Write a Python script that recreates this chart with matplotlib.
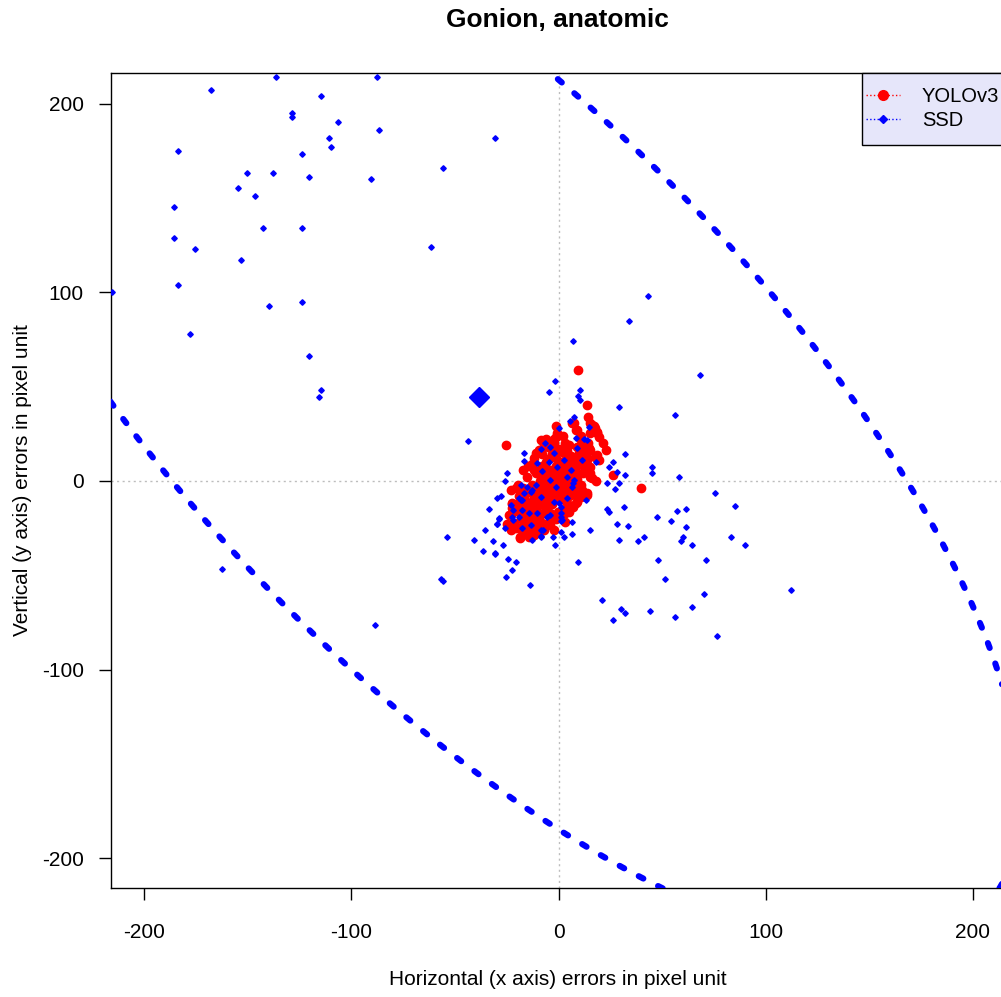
import numpy as np
import matplotlib.pyplot as plt
from matplotlib.lines import Line2D
from matplotlib.patches import Rectangle

plt.rcParams['font.family'] = ['Liberation Sans', 'DejaVu Sans']
plt.rcParams['axes.unicode_minus'] = False

# --- data (errors in pixels) ---
ssd_outer = [
    (-136.5, 214.3), (-87.6, 214.1), (-167.5, 207.0), (-114.7, 204.2), (-128.7, 195.2),
    (-128.7, 193.1), (-106.6, 190.1), (-86.5, 186.0), (-30.7, 181.9), (-110.6, 181.9),
    (-109.6, 177.0), (-183.6, 175.0), (-123.6, 173.1), (-55.6, 166.1), (-150.6, 163.1),
    (-137.6, 163.1), (-120.6, 161.1), (-90.7, 160.0), (-154.7, 155.1), (-146.6, 151.0),
    (-185.6, 145.0), (-142.6, 134.1), (-123.6, 134.1), (-185.6, 128.9), (-175.6, 123.1),
    (-61.7, 124.0), (-153.5, 117.0), (-183.6, 104.0), (-215.3, 100.2), (-139.6, 92.9),
    (-123.6, 95.0), (-177.7, 78.1), (-120.6, 66.1), (-114.7, 48.2), (-115.6, 44.2),
    (-162.6, -46.6), (-53.7, -29.5), (-56.9, -52.0), (-55.8, -53.0), (-88.6, -76.3),
    (-43.6, 21.0),
]
ssd_right = [
    (43.3, 98.0), (34.2, 85.0), (7.2, 74.0), (10.3, 48.1), (9.3, 45.0), (10.3, 42.9),
    (68.3, 56.0), (29.3, 39.1), (56.3, 35.0), (32.3, 14.1), (26.2, 10.2), (45.3, 7.1),
    (45.3, 4.1), (24.4, 7.1), (28.3, 4.9), (32.3, 3.2), (58.2, 2.0), (18.2, 10.2),
    (23.2, -1.1), (29.4, -1.0), (-1.8, 53.0), (-4.7, 47.0), (7.4, 34.1),
    (27.3, -4.2), (75.4, -6.2), (85.2, -13.1), (23.3, -15.0), (24.5, -16.3), (31.4, -13.9),
    (47.3, -19.1), (57.3, -16.1), (61.3, -15.0), (54.4, -21.0), (61.3, -24.2), (28.3, -23.0),
    (33.4, -23.8), (83.3, -30.0), (90.2, -34.1), (60.3, -30.0), (59.2, -32.0), (64.2, -34.1),
    (29.3, -31.1), (38.3, -32.0), (41.3, -30.0), (15.3, -26.0), (6.3, -21.9), (6.3, -28.1),
    (9.3, -43.1), (48.2, -42.0), (71.2, -42.0), (51.3, -51.9), (112.3, -58.1), (70.3, -60.1),
    (21.2, -63.1), (30.2, -68.0), (32.3, -70.1), (44.2, -69.1), (64.2, -66.9), (56.3, -71.9),
    (26.2, -74.0), (76.4, -82.0), (13.4, -10.1), (6.3, -3.0), (7.1, -1.1), (4.2, -9.2),
]
ssd_left = [
    (-40.9, -31.1), (-36.7, -37.1), (-31.7, -32.0), (-30.7, -38.0), (-30.5, -38.8),
    (-26.7, -34.1), (-24.6, -41.2), (-20.6, -42.9), (-22.5, -47.0), (-25.6, -51.2),
    (-13.7, -55.1), (-35.7, -26.1), (-33.6, -15.0), (-29.8, -22.9), (-28.8, -20.1),
    (-29.6, -9.2), (-27.6, -7.9), (-25.7, -25.1), (-12.7, -31.1), (-8.5, -30.0),
    (-8.5, -29.0), (-2.7, -30.0), (-1.8, -34.1), (-7.7, -26.0), (1.3, -17.1), (1.3, -21.0),
    (-24.8, 4.1), (-25.9, 0.2), (-16.7, -6.2), (-19.1, -9.2), (-17.5, -10.1), (-22.8, -12.7),
    (-21.9, -15.4), (-28.8, -19.8), (-29.6, -22.8), (-22.3, -18.9), (-21.9, -20.7),
    (-17.5, -25.1), (1.0, -26.9), (2.6, -29.5), (-3.9, -18.0), (1.0, -13.6), (1.3, -18.9),
    (1.8, -20.7), (-16.7, 15.0), (-16.7, 10.4),
]
ssd_core = [
    (5.3, 31.8), (0.1, 27.9), (8.3, 22.9), (12.5, 22.3), (-6.6, 20.0), (-3.9, 18.2),
    (14.6, 28.8), (13.8, 21.7), (9.0, 17.3), (11.4, 11.1), (-2.2, 14.7), (-4.7, 10.2),
    (-10.3, 9.4), (-7.9, 5.0), (-3.9, 0.5), (5.8, 5.8), (7.4, 0.5), (-11.1, -2.1),
    (-15.1, -3.0), (-18.3, -2.1), (-8.7, 17.1), (2.6, 11.1), (-0.6, 7.6), (-13.5, -5.7),
    (-18.3, -10.1), (-8.7, -8.3), (-1.4, -3.0), (-17.5, -15.4), (-10.3, -17.1),
    (-19.1, -18.9), (-13.5, -23.3), (-8.7, -26.0), (-5.5, -18.9), (0.2, -11.8),
    (-12.7, -4.8), (-2.2, -11.0), (4.2, 2.3), (-14.3, -17.1),
]
yolo_pts = [
    (9.5, 59.0), (13.5, 40.0), (14.3, 34.1), (39.6, -3.9), (26.4, 3.0), (-25.6, 19.1),
    (16.2, 29.7), (17.4, 27.9), (18.7, 26.1), (19.5, 23.5), (21.4, 20.0), (22.7, 16.4),
    (17.8, 12.9), (18.7, 13.8), (19.5, 11.1), (13.8, 12.0), (12.5, 7.6), (15.4, 4.1),
    (16.2, 1.4), (18.3, 0.2), (13.0, 19.1), (14.6, 17.3), (7.4, 30.6), (8.2, 27.0),
    (15.4, 30.6), (17.0, 29.1), (18.6, 25.2), (15.4, 25.2), (6.6, 30.6), (9.0, 27.0),
    (12.2, 18.2), (15.4, 16.4), (10.6, 21.7), (13.8, 11.1), (15.4, 7.6), (15.1, 2.3),
    (11.4, -6.5), (10.6, -8.3), (9.0, -11.0), (8.2, -11.8), (4.2, -15.4), (2.9, -17.1),
    (1.8, -18.9), (13.8, -7.4), (2.6, 14.7), (4.2, 12.9), (5.8, 11.1), (2.6, 7.6),
    (4.2, 5.8), (6.6, 7.6), (8.2, 4.1), (1.8, -1.2), (4.2, -1.2), (7.4, -1.2),
    (-0.6, 25.3), (-1.4, 23.5), (-8.7, 21.7), (-7.1, 19.1), (-9.5, 16.4), (-14.8, 7.9),
    (-19.5, -2.1), (-20.3, -3.9), (-22.7, -12.2), (-22.3, -14.5), (-22.7, -17.1),
    (-21.9, -22.4), (-20.7, -25.1), (-18.8, -30.0), (-13.5, -28.6), (-11.1, -27.4),
    (-8.7, -25.3), (-3.9, -20.7), (-4.7, -22.4), (0.2, -16.3), (1.8, -17.1), (9.0, -8.3),
    (10.6, -6.5), (11.4, -4.8), (13.8, -6.5), (-22.3, -11.8), (-21.5, -22.4), (-18.6, -30.4),
    (-11.9, -28.6), (-10.3, -25.1), (-7.9, -22.4), (-3.9, -23.3), (-0.4, -16.3),
    (2.6, -15.4), (5.0, -16.3), (9.8, -8.3), (-15.9, -20.7), (-13.5, -18.9), (-11.9, -15.4),
    (-15.1, -11.8), (-16.7, -8.3), (-10.3, -13.6), (-7.9, -9.2), (-6.3, -6.5), (-3.9, -3.9),
    (-2.2, 0.5), (1.0, 2.3), (2.6, 4.1), (5.8, 0.5), (7.4, -4.8), (4.2, -11.8), (0.2, -10.1),
    (-13.5, -24.2), (-14.3, -29.5),
    (-10, -5), (-8, -3), (-6, -1), (-4, 1), (-2, 3), (0, 5), (2, 7), (-12, -8), (-9, -10),
    (-7, -7), (-5, -5), (-3, -3), (-1, -1), (1, 1), (3, 3), (-11, -14), (-8, -12), (-6, -9),
    (-4, -7), (-2, -5), (0, -2), (2, 0), (4, 2), (-3, 6), (-1, 8), (1, 10), (-5, 4), (-7, 2),
    (-9, 0), (-13, -2), (-14, -6), (-16, -10), (-18, -14), (-6, 10), (-3, 14), (0, 17),
    (3, 20), (-9, -18), (-6, -15), (-3, -12), (-1, -9), (1, -6), (3, -4), (5, -8), (6, -3),
    (-1, -20), (-4, -17), (-10, -22), (-12, -19), (-15, -16), (-17, -19), (-19, -8),
    (-20, -12), (8, 6), (10, 9), (6, 13), (4, 16), (2, 24), (-2, 20), (-4, 12), (-8, 8),
    (-11, 4), (-12, 12), (-15, 2), (-17, -4), (-23, -5), (-24, -18), (-25, -23), (-16, -26),
    (-7, -26), (-2, -26), (3, -22), (7, -14), (11, -2), (12, 4), (10, 15), (5, 19), (-1, 29),
    (-3, 17), (-6, 22), (-11, 15), (-13, 9), (-17, 6),
    (-18, -20), (-16, -17), (-14, -13), (-12, -10), (-10, -7), (-8, -6), (-6, -4), (-4, -2),
    (-2, 0), (0, 2), (2, 4), (4, 8), (6, 10), (8, 12), (10, 13), (12, 16), (14, 20),
    (-19, -25), (-16, -22), (-13, -21), (-10, -19), (-7, -17), (-5, -13), (-2, -8), (1, -3),
    (3, 1), (5, 4), (7, 9), (9, 18), (11, 24), (-8, 14), (-5, 18), (-2, 22), (-12, 6),
    (-9, 3), (-6, 7), (-20, -16), (-17, -27), (-23, -26), (-14, -15), (3, -10), (6, -6),
    (9, 1), (-1, 12), (1, 16), (-4, -10), (-7, -13),
]
yolo_mean = (-1.5, 0.5)
ssd_mean = (-38.6, 44.5)
# points traced along the SSD error ellipse (the ellipse is fitted through them)
ell_trace = [
    (-212.4, 35.3), (-186.5, -1.1), (-152.4, -42.9), (-115.8, -83.2), (-76.9, -120.8),
    (-52.6, -142.2), (0.0, -184.0), (16.7, -197.0), (25.6, -202.8), (35.2, -208.2),
    (44.4, -213.6), (-3.0, 215.2), (4.2, 208.4), (34.9, 177.9), (70.9, 138.7),
    (105.5, 95.9), (137.3, 50.9), (166.6, 3.2), (172.2, -6.5), (182.3, -26.9),
    (192.0, -47.2), (200.5, -67.8), (208.4, -89.2), (211.6, -99.8), (213.7, -110.0),
    (213.7, -211.4),
]

ssd = np.array(ssd_outer + ssd_right + ssd_left + ssd_core)
yolo = np.array(yolo_pts)

# conic fit A x^2 + B xy + C y^2 + D x + E y = 1
tr = np.array(ell_trace)
tx, ty = tr[:, 0], tr[:, 1]
X = np.column_stack([tx**2, tx * ty, ty**2, tx, ty])
A, B, C, D, E = np.linalg.lstsq(X, np.ones_like(tx), rcond=None)[0]
x0, y0 = np.linalg.solve([[2 * A, B], [B, 2 * C]], [-D, -E])
k = 1 - (A * x0**2 + B * x0 * y0 + C * y0**2 + D * x0 + E * y0)
w, V = np.linalg.eigh([[A, B / 2], [B / 2, C]])
r = np.sqrt(k / w)
t = np.linspace(0, 2 * np.pi, 800)
uv = V @ np.vstack([r[0] * np.cos(t), r[1] * np.sin(t)])
ex, ey = x0 + uv[0], y0 + uv[1]

fig = plt.figure(figsize=(10.01, 9.97), dpi=100)
ax = fig.add_axes([0.1109, 0.1093, 0.8921, 0.8175])

ax.axhline(0, color='#bdbdbd', lw=1, ls=(0, (1.5, 2.5)), zorder=1)
ax.axvline(0, color='#bdbdbd', lw=1, ls=(0, (1.5, 2.5)), zorder=1)

ax.plot(yolo[:, 0], yolo[:, 1], 'o', color='red', ms=6, mec='red', ls='none', zorder=3)
ax.plot(*yolo_mean, 'o', color='red', ms=8, zorder=3)
ax.plot(ssd[:, 0], ssd[:, 1], 'D', color='blue', ms=2.8, mec='blue', ls='none', zorder=4)
ax.plot(*ssd_mean, 'D', color='blue', ms=10, zorder=4)

ax.plot(ex, ey, color='blue', lw=4.4, ls=(0, (0.85, 2.7)), dash_capstyle='round', zorder=5)

ax.set_xlim(-216, 215)
ax.set_ylim(-215.8, 216.2)
ax.set_xticks([-200, -100, 0, 100, 200])
ax.set_yticks([-200, -100, 0, 100, 200])
ax.tick_params(direction='out', length=8.5, width=1, labelsize=15)
ax.tick_params(axis='x', pad=17)
ax.tick_params(axis='y', pad=11)
for s in ax.spines.values():
    s.set_linewidth(1)

ax.set_xlabel('Horizontal (x axis) errors in pixel unit', fontsize=15)
ax.set_ylabel('Vertical (y axis) errors in pixel unit', fontsize=15)
ax.xaxis.set_label_coords(0.5, -0.101)
ax.yaxis.set_label_coords(-0.089, 0.5)
fig.text(557.5 / 1001, 1 - 20 / 997, 'Gonion, anatomic', ha='center', va='center',
         fontsize=19, fontweight='bold')

# legend box (right side runs off the picture, as in the reference)
ax.add_patch(Rectangle((0.841, 0.9117), 0.166, 0.0883, transform=ax.transAxes,
                       facecolor='#e6e6fa', edgecolor='black', lw=1, clip_on=False, zorder=6))
handles = [
    Line2D([], [], color='red', ls=':', lw=1, marker='o', ms=7),
    Line2D([], [], color='blue', ls=':', lw=1, marker='D', ms=4.5),
]
leg = ax.legend(handles, ['YOLOv3', 'SSD'], loc='upper left', bbox_to_anchor=(0.8455, 0.9822),
                borderaxespad=0, borderpad=0, fontsize=14.5, frameon=False,
                handlelength=1.69, handletextpad=1.09, labelspacing=0.24)
leg.set_zorder(7)

fig.savefig('out.png', dpi=100)
